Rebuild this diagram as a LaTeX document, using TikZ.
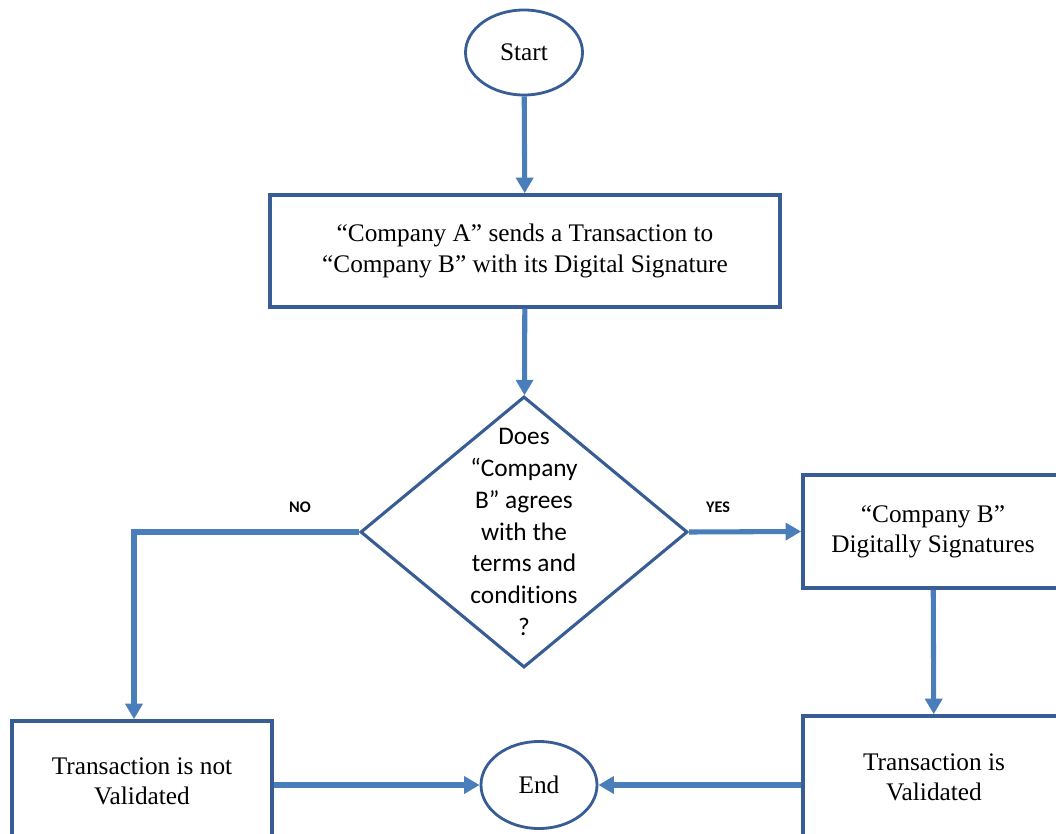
\documentclass[tikz,border=0pt]{standalone}
\usepackage{fontspec}
\setmainfont{Liberation Serif}
\newfontfamily\calibrifont[Ligatures={TeX,NoCommon}]{Carlito}
\usetikzlibrary{shapes.geometric, arrows.meta, positioning}
\definecolor{FlowLine}{RGB}{74,126,187}
\definecolor{FlowEdge}{RGB}{56,93,148}

\begin{document}
\begin{tikzpicture}[x=0.025cm, y=-0.025cm,
          term/.style={ellipse, draw=FlowEdge, line width=2pt, fill=white,
                       minimum width=2.925cm, minimum height=2.125cm,
                       inner sep=0pt, font=\fontsize{18}{21.5}\selectfont},
          flowbox/.style={rectangle, draw=FlowEdge, line width=2.6pt, fill=white,
                          minimum width=6.5cm, align=center,
                          font=\fontsize{18}{21.5}\selectfont},
          decide/.style={diamond, draw=FlowEdge, line width=2.2pt, fill=white,
                         minimum width=8.175cm, minimum height=6.775cm,
                         inner sep=0pt},
          decidetext/.style={align=center, inner sep=0pt,
                             font=\calibrifont\fontsize{18}{22.6}\selectfont},
          answer/.style={font=\calibrifont\bfseries\fontsize{11.5}{13}\selectfont},
          arr/.style={-{Triangle[length=11pt, width=12pt]}, line width=3.6pt,
                      draw=FlowLine}
        ]
        \useasboundingbox (0,0) rectangle (1056,833);

        % Main column
        \node[term] (start) at (524, 52.5) {Start};

        \node[flowbox, minimum width=12.75cm, minimum height=2.8cm]
              (send) at (525, 251)
              {“Company A” sends a Transaction to\\“Company B” with its Digital Signature};

        \node[decide, label={[decidetext]center:{Does\\“Company\\B” agrees\\with the\\terms and\\conditions\\?}}]
              (agree) at (524, 532) {};

        \draw[arr] (start)--(send);
        \draw[arr] (send)--(agree);

        % YES branch
        \node[flowbox, minimum height=2.825cm] (sign) at (933, 531.5)
              {“Company B”\\Digitally Signatures};
        \node[flowbox, minimum width=6.55cm, minimum height=3.05cm]
              (valid) at (934, 777) {Transaction is\\Validated};
        \node[answer] (yes) at (718, 507) {YES};

        \draw[arr] (agree.east)--(sign.west);
        \draw[arr] (sign)--(valid);

        % NO branch
        \coordinate (noturn) at (134, 532);
        \node[flowbox, minimum height=3cm] (invalid) at (142, 781)
              {Transaction is not\\Validated};
        \node[answer] (no) at (300, 507) {NO};

        \draw[arr] (agree.west)--(noturn)--(noturn |- invalid.north);

        % End
        \node[term, minimum width=2.9cm, minimum height=2.175cm] (end) at (539, 785) {End};

        \draw[arr] (invalid.east |- end)--(end.west);
        \draw[arr] (valid.west |- end)--(end.east);
      \end{tikzpicture}
\end{document}
